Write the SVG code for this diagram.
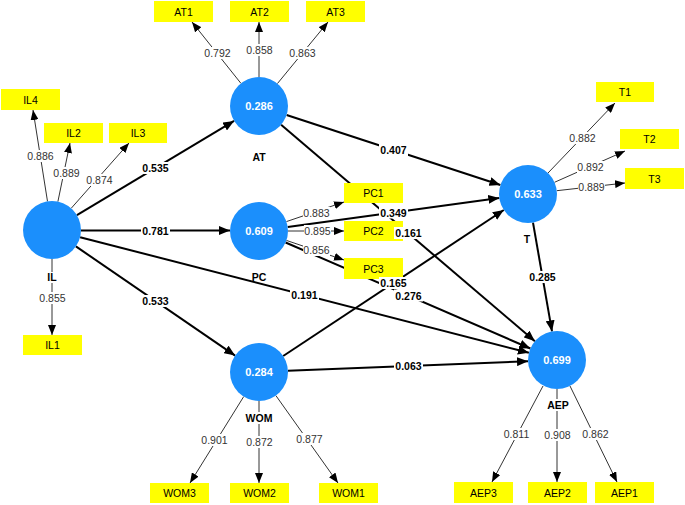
<svg xmlns="http://www.w3.org/2000/svg" width="685" height="505" viewBox="0 0 685 505">
<style>
text{font-family:"Liberation Sans",Arial,sans-serif;text-anchor:middle}
.s{stroke:#000;stroke-width:2;fill:none;marker-end:url(#ah)}
.m{stroke:#333;stroke-width:1;fill:none;marker-end:url(#am)}
.box{fill:#ffff00}
.bt{font-size:10.5px;fill:#000}
.c{fill:#1b8ffc}
.cv{font-size:11px;font-weight:bold;fill:#fff}
.nm{font-size:10.5px;font-weight:bold;fill:#000}
.ml{font-size:10.5px;fill:#333}
.sl{font-size:10.5px;font-weight:bold;fill:#000}
.bg{fill:#fff}
</style>
<defs>
<marker id="ah" markerUnits="userSpaceOnUse" markerWidth="11" markerHeight="9" refX="11" refY="4.5" orient="auto"><path d="M0,0 L11,4.5 L0,9 z" fill="#000"/></marker>
<marker id="am" markerUnits="userSpaceOnUse" markerWidth="10" markerHeight="8" refX="10" refY="4" orient="auto"><path d="M0,0 L10,4 L0,8 z" fill="#000"/></marker>
</defs>
<rect width="685" height="505" fill="#fff"/>
<g id="connectors">
<path class="s" d="M76.9,215.1 L234.1,120.9"/>
<path class="s" d="M81,230.5 L230,230.5"/>
<path class="s" d="M75.9,246.4 L235.1,355.6"/>
<path class="s" d="M80.1,237.2 L528.9,352.8"/>
<path class="s" d="M286.6,115 L500.4,185"/>
<path class="s" d="M281.1,124.8 L534.9,341.2"/>
<path class="s" d="M287.7,227.1 L499.3,197.9"/>
<path class="s" d="M285.6,242.5 L530.4,348.5"/>
<path class="s" d="M283.2,356 L503.8,210"/>
<path class="s" d="M288,370.8 L528,361.2"/>
<path class="s" d="M533,222.6 L552,331.4"/>
<path class="m" d="M47.5,201.4 L33,110"/>
<path class="m" d="M57.9,201.6 L70,143"/>
<path class="m" d="M71.2,208.3 L129,143"/>
<path class="m" d="M52,259 L52,335"/>
<path class="m" d="M240.9,83.3 L192,22"/>
<path class="m" d="M259,77 L259,22"/>
<path class="m" d="M277.4,83.6 L328,22"/>
<path class="m" d="M548,173 L615,103"/>
<path class="m" d="M554.5,182.3 L625,151"/>
<path class="m" d="M556.8,190.7 L625,183"/>
<path class="m" d="M286.4,221.6 L344,202"/>
<path class="m" d="M288,231 L344,231"/>
<path class="m" d="M286.4,240.4 L344,260"/>
<path class="m" d="M243.7,396.6 L190,483"/>
<path class="m" d="M259,401 L259,483"/>
<path class="m" d="M275.9,395.6 L338,483"/>
<path class="m" d="M543,386 L492,482"/>
<path class="m" d="M557,389 L557,482"/>
<path class="m" d="M570,386 L617,482"/>
</g>
<g id="IL"><circle class="c" cx="52" cy="230" r="29"/><rect class="bg" x="45" y="272" width="14" height="11"/><text class="nm" x="52" y="281">IL</text></g>
<g id="AT"><circle class="c" cx="259" cy="106" r="29"/><text class="cv" x="259" y="110">0.286</text><text class="nm" x="259" y="161">AT</text></g>
<g id="PC"><circle class="c" cx="259" cy="231" r="29"/><text class="cv" x="259" y="235">0.609</text><text class="nm" x="259" y="281">PC</text></g>
<g id="WOM"><circle class="c" cx="259" cy="372" r="29"/><text class="cv" x="259" y="376">0.284</text><rect class="bg" x="245" y="412" width="28" height="12"/><text class="nm" x="259" y="422">WOM</text></g>
<g id="T"><circle class="c" cx="528" cy="194" r="29"/><text class="cv" x="528" y="198">0.633</text><text class="nm" x="527" y="243">T</text></g>
<g id="AEP"><circle class="c" cx="557" cy="360" r="29"/><text class="cv" x="557" y="364">0.699</text><rect class="bg" x="545" y="399" width="26" height="12"/><text class="nm" x="558" y="409">AEP</text></g>
<g id="AT1"><rect class="box" x="154" y="1" width="59" height="21"/><text class="bt" x="183.5" y="15.5">AT1</text></g>
<g id="AT2"><rect class="box" x="230" y="1" width="59" height="21"/><text class="bt" x="259.5" y="15.5">AT2</text></g>
<g id="AT3"><rect class="box" x="306" y="1" width="59" height="21"/><text class="bt" x="335.5" y="15.5">AT3</text></g>
<g id="IL4"><rect class="box" x="1" y="89" width="59" height="21"/><text class="bt" x="30.5" y="103.5">IL4</text></g>
<g id="IL2"><rect class="box" x="44" y="123" width="59" height="20"/><text class="bt" x="73.5" y="137">IL2</text></g>
<g id="IL3"><rect class="box" x="109" y="123" width="58" height="20"/><text class="bt" x="138" y="137">IL3</text></g>
<g id="IL1"><rect class="box" x="23" y="335" width="59" height="20"/><text class="bt" x="52.5" y="349">IL1</text></g>
<g id="T1"><rect class="box" x="596" y="82" width="58" height="20"/><text class="bt" x="625" y="96">T1</text></g>
<g id="T2"><rect class="box" x="620" y="129" width="59" height="20"/><text class="bt" x="649.5" y="143">T2</text></g>
<g id="T3"><rect class="box" x="625" y="168" width="59" height="21"/><text class="bt" x="654.5" y="182.5">T3</text></g>
<g id="PC1"><rect class="box" x="344" y="183" width="59" height="20"/><text class="bt" x="373.5" y="197">PC1</text></g>
<g id="PC2"><rect class="box" x="344" y="221" width="59" height="20"/><text class="bt" x="373.5" y="235">PC2</text></g>
<g id="PC3"><rect class="box" x="344" y="258" width="59" height="21"/><text class="bt" x="373.5" y="272.5">PC3</text></g>
<g id="WOM3"><rect class="box" x="150" y="483" width="59" height="20"/><text class="bt" x="179.5" y="497">WOM3</text></g>
<g id="WOM2"><rect class="box" x="230" y="483" width="59" height="20"/><text class="bt" x="259.5" y="497">WOM2</text></g>
<g id="WOM1"><rect class="box" x="319" y="483" width="59" height="20"/><text class="bt" x="348.5" y="497">WOM1</text></g>
<g id="AEP3"><rect class="box" x="454" y="482" width="59" height="21"/><text class="bt" x="483.5" y="496.5">AEP3</text></g>
<g id="AEP2"><rect class="box" x="528" y="482" width="59" height="21"/><text class="bt" x="557.5" y="496.5">AEP2</text></g>
<g id="AEP1"><rect class="box" x="595" y="482" width="59" height="21"/><text class="bt" x="624.5" y="496.5">AEP1</text></g>
<g id="labels">
<g class="bg">
<rect x="141" y="162" width="29" height="12"/><rect x="141" y="224.5" width="29" height="12"/><rect x="141" y="295" width="29" height="12"/><rect x="290" y="289" width="29" height="12"/>
<rect x="379" y="144" width="29" height="12"/><rect x="394" y="227" width="29" height="12"/><rect x="379" y="206.5" width="29" height="12"/><rect x="394" y="289.5" width="29" height="12"/>
<rect x="379" y="277" width="29" height="12"/><rect x="394" y="360" width="29" height="12"/><rect x="528" y="271" width="29" height="12"/>
<rect x="27" y="150" width="27" height="12"/><rect x="53" y="167" width="27" height="12"/><rect x="86" y="174" width="27" height="12"/><rect x="39" y="292" width="27" height="12"/>
<rect x="204" y="47" width="27" height="12"/><rect x="246" y="44" width="27" height="12"/><rect x="289" y="47" width="27" height="12"/>
<rect x="569" y="132" width="27" height="12"/><rect x="577" y="161" width="27" height="12"/><rect x="578" y="181" width="27" height="12"/>
<rect x="303" y="207" width="27" height="12"/><rect x="304" y="225" width="27" height="12"/><rect x="303" y="244" width="27" height="12"/>
<rect x="201" y="434" width="27" height="12"/><rect x="246" y="436" width="27" height="12"/><rect x="296" y="433" width="27" height="12"/>
<rect x="503" y="428" width="27" height="12"/><rect x="544" y="429" width="27" height="12"/><rect x="582" y="428" width="27" height="12"/>
</g>
<text class="sl" x="155.5" y="172">0.535</text>
<text class="sl" x="155.5" y="234.5">0.781</text>
<text class="sl" x="155.5" y="305">0.533</text>
<text class="sl" x="304.5" y="299">0.191</text>
<text class="sl" x="393.5" y="154">0.407</text>
<text class="sl" x="408.5" y="237">0.161</text>
<text class="sl" x="393.5" y="216.5">0.349</text>
<text class="sl" x="408.5" y="299.5">0.276</text>
<text class="sl" x="393.5" y="287">0.165</text>
<text class="sl" x="408.5" y="370">0.063</text>
<text class="sl" x="542.5" y="281">0.285</text>
<text class="ml" x="40.5" y="160">0.886</text>
<text class="ml" x="66.5" y="177">0.889</text>
<text class="ml" x="99.5" y="184">0.874</text>
<text class="ml" x="52.5" y="302">0.855</text>
<text class="ml" x="217.5" y="57">0.792</text>
<text class="ml" x="259.5" y="54">0.858</text>
<text class="ml" x="302.5" y="57">0.863</text>
<text class="ml" x="582.5" y="142">0.882</text>
<text class="ml" x="590.5" y="171">0.892</text>
<text class="ml" x="591.5" y="191">0.889</text>
<text class="ml" x="316.5" y="217">0.883</text>
<text class="ml" x="317.5" y="235">0.895</text>
<text class="ml" x="316.5" y="254">0.856</text>
<text class="ml" x="214.5" y="444">0.901</text>
<text class="ml" x="259.5" y="446">0.872</text>
<text class="ml" x="309.5" y="443">0.877</text>
<text class="ml" x="516.5" y="438">0.811</text>
<text class="ml" x="557.5" y="439">0.908</text>
<text class="ml" x="595.5" y="438">0.862</text>
</g>
</svg>
